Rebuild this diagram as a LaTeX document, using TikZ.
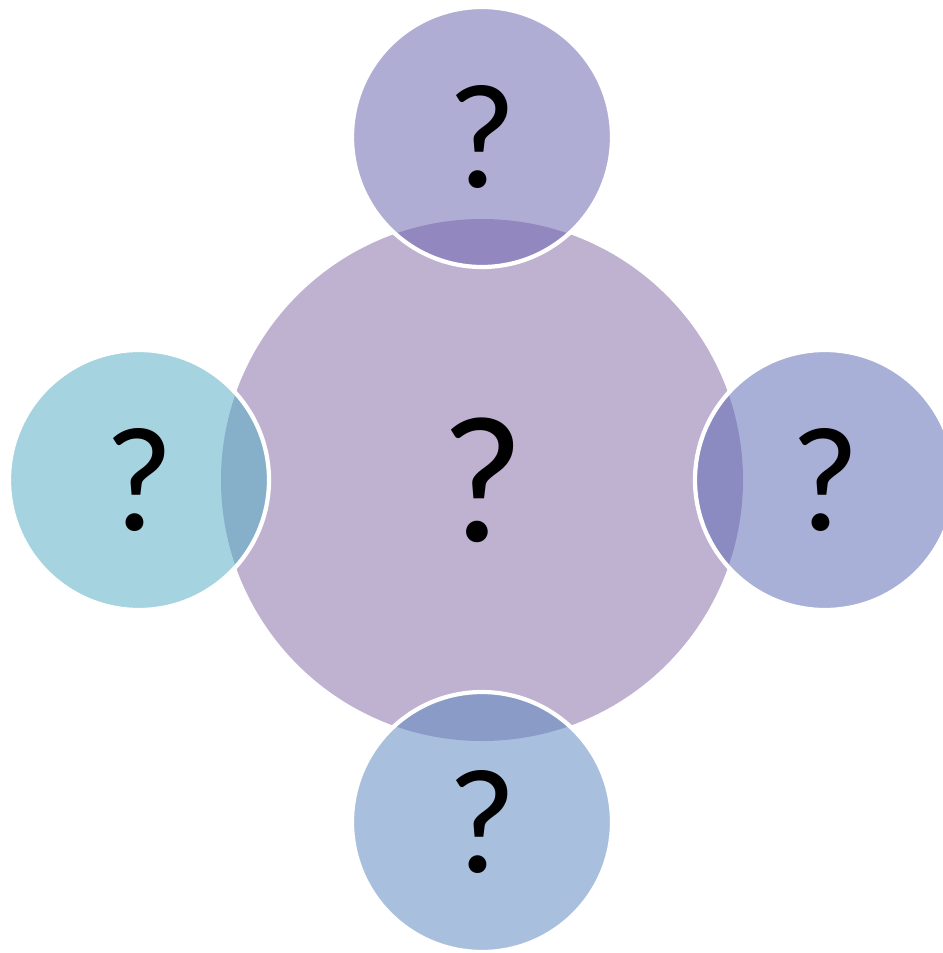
\documentclass[tikz,border=0pt]{standalone}
\usepackage{fontspec}
\setmainfont{Carlito}
\usetikzlibrary{positioning}
\definecolor{hubLilac}{HTML}{BFB1D0}
\definecolor{topViolet}{HTML}{6A64B0}
\definecolor{rightIndigo}{HTML}{5D6AB5}
\definecolor{bottomBlue}{HTML}{5B88C1}
\definecolor{leftTeal}{HTML}{55AEC5}
\tikzset{
  hub/.style={circle,fill=hubLilac,minimum size=10.44cm,inner sep=0pt,
    font=\fontsize{103}{110}\selectfont},
  satellite/.style={circle,fill=#1,fill opacity=.53,text opacity=1,
    draw=white,draw opacity=1,line width=2.4pt,minimum size=5.2cm,inner sep=0pt,
    font=\fontsize{85}{90}\selectfont}
}
\begin{document}
\begin{tikzpicture}
  \useasboundingbox (0,0) rectangle (18.86,-19.06);
  % central circle
  \node[hub] (c) at (9.64,-9.6) {?};
  % four around it
  \node[satellite=topViolet] (t) at (9.64,-2.74) {?};
  \node[satellite=rightIndigo] (r) at (16.5,-9.6) {?};
  \node[satellite=bottomBlue] (b) at (9.64,-16.44) {?};
  \node[satellite=leftTeal] (l) at (2.78,-9.6) {?};
\end{tikzpicture}
\end{document}
